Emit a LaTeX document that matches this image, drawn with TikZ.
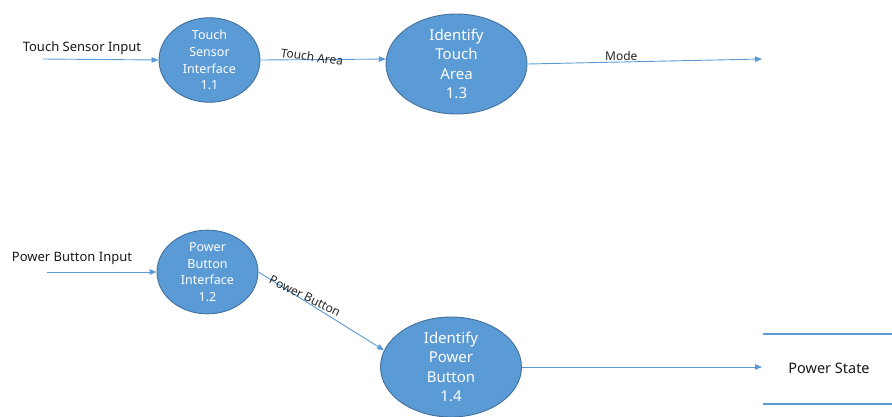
\documentclass[tikz,border=0pt]{standalone}
\usepackage{fontspec}
\setmainfont{Noto Sans}
\usetikzlibrary{shapes.geometric,arrows.meta}
\definecolor{procfill}{HTML}{5B9BD5}
\definecolor{procedge}{HTML}{41719C}
\definecolor{flow}{HTML}{5B9BD5}
\tikzset{
  proc/.style={ellipse, fill=procfill, draw=procedge, line width=0.9pt,
    text=white, align=center, inner sep=0pt},
  smallproc/.style={proc, minimum width=101pt, minimum height=77pt,
    font=\fontsize{12.5}{16.7}\selectfont},
  bigproc/.style={proc, minimum width=141pt, minimum height=100pt,
    font=\fontsize{15}{19.5}\selectfont},
  flowline/.style={draw=flow, line width=0.9pt,
    -{Triangle[length=7pt,width=5.5pt]}},
  flowlabel/.style={font=\fontsize{12}{14}\selectfont, text=black!85, inner sep=1pt},
  extlabel/.style={font=\fontsize{13}{15}\selectfont, text=black!90, inner sep=0pt},
  storeline/.style={draw=flow, line width=1.3pt}
}
\begin{document}
\begin{tikzpicture}[x=1pt,y=-1pt]
\useasboundingbox (0,0) rectangle (892,416);

% processes
\node[smallproc] (n11) at (209.5,60) {Touch\\Sensor\\Interface\\1.1};
\node[bigproc]   (n13) at (456.5,64) {Identify\\Touch\\Area\\1.3};
\node[smallproc] (n12) at (207.5,272) {Power\\Button\\Interface\\1.2};
\node[bigproc]   (n14) at (451,367) {Identify\\Power\\Button\\1.4};

% external inputs
\coordinate (tsIn) at (43,59);
\coordinate (pbIn) at (47,272);
\node[extlabel] (tsLbl) at (82,48) {Touch Sensor Input};
\node[extlabel] (pbLbl) at (72,258) {Power Button Input};

% outputs
\coordinate (modeEnd) at (762,59);
\coordinate (stateEnd) at (762,367);

% data store
\coordinate (stTopL) at (763,334);
\coordinate (stTopR) at (892,334);
\coordinate (stBotL) at (763,404);
\coordinate (stBotR) at (892,404);
\node[extlabel, font=\fontsize{14.5}{16}\selectfont] (store) at (829,368) {Power State};
\draw[storeline] (stTopL) -- (stTopR);
\draw[storeline] (stBotL) -- (stBotR);

% flows
\draw[flowline] (tsIn) -- (n11.west);
\draw[flowline] (pbIn) -- (n12.west);
\draw[flowline] (n11.east) -- (n13.176);
\node[flowlabel, rotate=-8] (taLbl) at (312,57) {Touch Area};
\draw[flowline] (n13.east) -- (modeEnd)
  node[flowlabel, pos=0.4, above=0pt] (modeLbl) {Mode};
\draw[flowline] (n12.east) -- (n14.166);
\node[flowlabel, rotate=-26] (pbFlowLbl) at (305,296) {Power Button};
\draw[flowline] (n14.east) -- (stateEnd);
\end{tikzpicture}
\end{document}
